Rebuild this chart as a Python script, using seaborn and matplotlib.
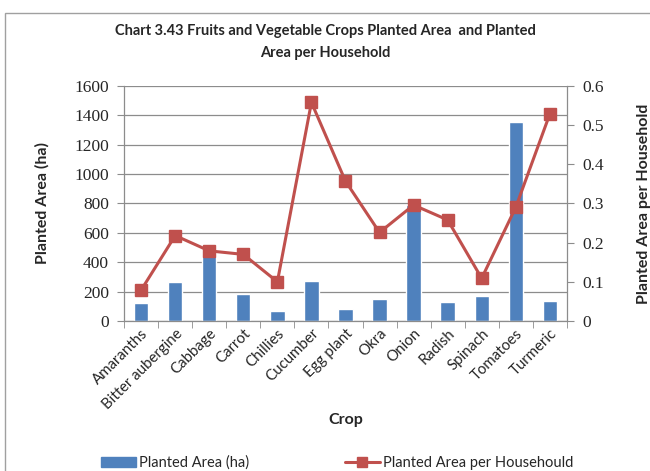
import numpy as np
import pandas as pd
import matplotlib
matplotlib.use("Agg")
import matplotlib.pyplot as plt
import seaborn as sns
from matplotlib.lines import Line2D
from matplotlib.patches import Patch

crops = ["Amaranths", "Bitter aubergine", "Cabbage", "Carrot", "Chillies", "Cucumber",
         "Egg plant", "Okra", "Onion", "Radish", "Spinach", "Tomatoes", "Turmeric"]
planted_area = [125, 263, 470, 182, 70, 272, 80, 150, 790, 127, 172, 1352, 134]
area_per_household = [0.079, 0.218, 0.179, 0.170, 0.100, 0.558, 0.357, 0.226,
                      0.296, 0.258, 0.109, 0.290, 0.528]

df = pd.DataFrame({"Crop": crops, "Area": planted_area, "PerHH": area_per_household})

sns.set_style("white")
plt.rcParams["font.family"] = ["Lato", "DejaVu Sans"]

bar_col = "#4F81BD"
line_col = "#C0504D"

fig = plt.figure(figsize=(6.5, 4.71), dpi=100)
ax = fig.add_axes([0.191, 0.3185, 0.681, 0.499])

ax.set_axisbelow(True)
ax.yaxis.grid(True, color="#8c8c8c", linewidth=0.9)
sns.barplot(data=df, x="Crop", y="Area", color=bar_col, width=0.42, saturation=1, ax=ax, zorder=2)

ax2 = ax.twinx()
ax2.plot(range(len(crops)), area_per_household, color=line_col, linewidth=2.2,
         marker="s", markersize=9, markerfacecolor=line_col, markeredgecolor=line_col, zorder=3)

ax.set_xlim(-0.5, len(crops) - 0.5)
ax.set_ylim(0, 1600)
ax.set_yticks(np.arange(0, 1601, 200))
ax2.set_ylim(0, 0.6)
ax2.set_yticks(np.arange(0, 0.61, 0.1))
ax2.set_yticklabels(["0"] + [f"{v:.1f}" for v in np.arange(0.1, 0.61, 0.1)])

for a in (ax, ax2):
    for s in a.spines.values():
        s.set_visible(False)
ax.spines["left"].set_visible(True)
ax.spines["bottom"].set_visible(True)
ax2.spines["right"].set_visible(True)
for s in (ax.spines["left"], ax.spines["bottom"], ax2.spines["right"]):
    s.set_color("#8c8c8c")
    s.set_linewidth(0.9)

serif = ["Liberation Serif", "DejaVu Serif"]
ax.tick_params(axis="y", direction="out", length=5, color="#8c8c8c", labelsize=12.5, pad=6, left=True)
ax2.tick_params(axis="y", direction="out", length=5, color="#8c8c8c", labelsize=12.5, pad=6, right=True)
for lab in ax.get_yticklabels() + ax2.get_yticklabels():
    lab.set_fontfamily(serif)

# ticks between categories like Excel
ax.set_xticks(np.arange(-0.5, len(crops), 1), minor=True)
ax.set_xticks(range(len(crops)))
ax.set_xticklabels(crops, rotation=45, ha="right", rotation_mode="anchor", fontsize=10.8)
ax.tick_params(axis="x", which="major", length=0, pad=4)
ax.tick_params(axis="x", which="minor", direction="out", length=5, color="#8c8c8c", bottom=True)

ax.set_xlabel("Crop", fontsize=11.5, fontweight="bold", labelpad=1)
ax.set_ylabel("Planted Area (ha)", fontsize=11.5, fontweight="bold", labelpad=18)
ax2.set_ylabel("Planted Area per Household", fontsize=11.5, fontweight="bold", labelpad=24)

fig.text(0.5, 0.95, "Chart 3.43 Fruits and Vegetable Crops Planted Area  and Planted\nArea per Household",
         ha="center", va="top", fontsize=10.5, fontweight="bold", linespacing=1.8)

leg1 = fig.legend([Patch(facecolor=bar_col, edgecolor=bar_col)], ["Planted Area (ha)"],
                  loc="center left", bbox_to_anchor=(0.155, 0.017), frameon=False, fontsize=10.5,
                  handlelength=2.4, handletextpad=0.25, borderpad=0, borderaxespad=0)
leg2 = fig.legend([Line2D([], [], color=line_col, linewidth=2.2, marker="s", markersize=7)],
                  ["Planted Area per Househould"], loc="center left", bbox_to_anchor=(0.53, 0.017),
                  frameon=False, fontsize=10.5, handlelength=2.4, handletextpad=0.25,
                  borderpad=0, borderaxespad=0)

fig.patches.append(plt.Rectangle((0.008, -0.05), 1.1, 1.022, transform=fig.transFigure,
                                 fill=False, edgecolor="#a0a0a0", linewidth=1))

fig.savefig("out.png", dpi=100)
